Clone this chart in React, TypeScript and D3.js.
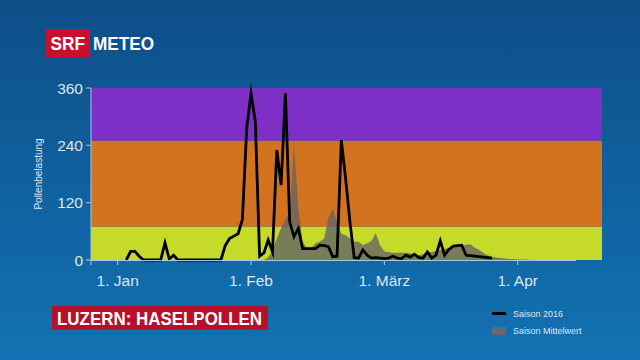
import React from "react";
import * as d3 from "d3";

// ---- data ----
const monthTickDays = [0, 31, 62, 93];
const monthTickLabels = ["1. Jan", "1. Feb", "1. März", "1. Apr"];
const yTicks = [0, 120, 240, 360];

// threshold bands (Pollenbelastung)
const bandLower = [0, 70, 250];
const bandUpper = [70, 250, 360];
const bandColors = ["#c6da2a", "#d3731f", "#7d2fc6"];

// Saison 2016, daily values starting at day 2 (day 0 = 1. Jan)
const season2016Start = 2;
const season2016 = [
  0, 18, 18, 8, 0, 0, 0, 0, 0, 36, 2, 10,
  0, 0, 0, 0, 0, 0, 0, 0, 0, 0, 0,
  30, 45, 50, 55, 85, 276, 349, 290, 8, 15, 42, 17, 230, 157, 349,
  80, 49, 66, 24, 24, 24, 24, 31, 30, 28, 7, 8, 251, 170, 80, 5,
  4, 21, 10, 4, 5, 4, 3, 4, 8, 4, 3, 10, 6, 12, 5, 4,
  17, 4, 10, 40, 10, 22, 29, 30, 31, 10, 9, 8, 7, 6, 5, 4,
];

// Saison Mittelwert, daily values starting at day 34
const meanStart = 34;
const seasonMean = [
  0, 5, 20, 45, 67, 85, 100, 241, 110, 38, 25, 25, 35, 38, 45, 88, 108,
  80, 55, 52, 45, 38, 38, 31, 35, 40, 56, 31, 18, 16, 15, 15, 15, 15, 14,
  12, 10, 12, 15, 17, 19, 21, 23, 25, 26, 28, 30, 32, 33, 26, 21, 15, 10,
  7, 5, 4, 3, 2, 2, 1, 1, 1, 0,
];

const legendLabels = ["Saison 2016", "Saison Mittelwert"];

export default function App() {
  const W = 640;
  const H = 360;
  const x = d3.scaleLinear().domain([-6.2, 112.6]).range([91, 602]);
  const y = d3.scaleLinear().domain([0, 360]).range([260, 88]);

  const lineData = season2016.map((v, i) => [season2016Start + i, v] as [number, number]);
  const meanData = seasonMean.map((v, i) => [meanStart + i, v] as [number, number]);

  const lineGen = d3
    .line<[number, number]>()
    .x((d) => x(d[0]))
    .y((d) => y(d[1]));
  const areaGen = d3
    .area<[number, number]>()
    .x((d) => x(d[0]))
    .y0(y(0))
    .y1((d) => y(d[1]));

  const font = "'Liberation Sans', Arial, sans-serif";
  const tickColor = "#dbe7f3";
  const axisColor = "#a9c6e2";
  const [x0, x1] = x.range();

  return (
    <svg
      width={W}
      height={H}
      style={{ position: "fixed", left: 0, top: 0, display: "block" }}
      fontFamily={font}
    >
      <defs>
        <linearGradient id="bg" x1="0" y1="0" x2="0" y2="1">
          <stop offset="0" stopColor="#0d4e88" />
          <stop offset="1" stopColor="#1372b3" />
        </linearGradient>
      </defs>
      <rect x={0} y={0} width={W} height={H} fill="url(#bg)" />

      {/* logo */}
      <rect x={46} y={29} width={44} height={28} fill="#c8102e" />
      <text x={50.5} y={50} fill="#fff" fontWeight="bold" fontSize={19} textLength={34.5} lengthAdjust="spacingAndGlyphs">
        SRF
      </text>
      <text x={93} y={50} fill="#fff" fontWeight="bold" fontSize={19} textLength={61} lengthAdjust="spacingAndGlyphs">
        METEO
      </text>

      {/* bands */}
      {bandLower.map((lo, i) => (
        <rect
          key={i}
          x={x0}
          y={y(bandUpper[i])}
          width={x1 - x0}
          height={y(lo) - y(bandUpper[i])}
          fill={bandColors[i]}
        />
      ))}

      {/* mean area */}
      <path d={areaGen(meanData) || ""} fill="rgba(100,100,100,0.8)" />

      {/* season 2016 line */}
      <path
        d={lineGen(lineData) || ""}
        fill="none"
        stroke="#000"
        strokeWidth={2.8}
        strokeLinejoin="miter"
        strokeMiterlimit={10}
      />

      {/* axes */}
      <line x1={x0} x2={x0} y1={y(360)} y2={y(0)} stroke={axisColor} strokeWidth={1} />
      <line x1={x0} x2={576} y1={y(0) + 0.5} y2={y(0) + 0.5} stroke={axisColor} strokeWidth={1} />
      {yTicks.map((t) => (
        <g key={t}>
          <line x1={x0 - 5} x2={x0} y1={y(t)} y2={y(t)} stroke={axisColor} />
          <text x={83} y={y(t) + 5.5} fill={tickColor} fontSize={15.5} textAnchor="end">
            {t}
          </text>
        </g>
      ))}
      <line x1={x0} x2={x0} y1={y(0)} y2={y(0) + 5} stroke={axisColor} />
      {monthTickDays.map((d, i) => (
        <g key={d}>
          <line x1={x(d)} x2={x(d)} y1={y(0)} y2={y(0) + 5} stroke={axisColor} />
          <text x={x(d)} y={286} fill={tickColor} fontSize={15.5} textAnchor="middle">
            {monthTickLabels[i]}
          </text>
        </g>
      ))}
      <text
        transform={`translate(42,${(y(0) + y(360)) / 2}) rotate(-90)`}
        fill={tickColor}
        fontSize={10}
        textAnchor="middle"
      >
        Pollenbelastung
      </text>

      {/* title */}
      <rect x={52} y={306} width={216} height={23.5} fill="#b5112c" />
      <text x={57} y={324.5} fill="#fff" fontWeight="bold" fontSize={17.5} textLength={205} lengthAdjust="spacingAndGlyphs">
        LUZERN: HASELPOLLEN
      </text>

      {/* legend */}
      <line x1={492} x2={506} y1={313.5} y2={313.5} stroke="#000" strokeWidth={3} />
      <text x={513} y={316.5} fill={tickColor} fontSize={9}>
        {legendLabels[0]}
      </text>
      <rect x={492} y={327} width={14} height={8} fill="#666a70" />
      <text x={513} y={334} fill={tickColor} fontSize={9}>
        {legendLabels[1]}
      </text>
    </svg>
  );
}
